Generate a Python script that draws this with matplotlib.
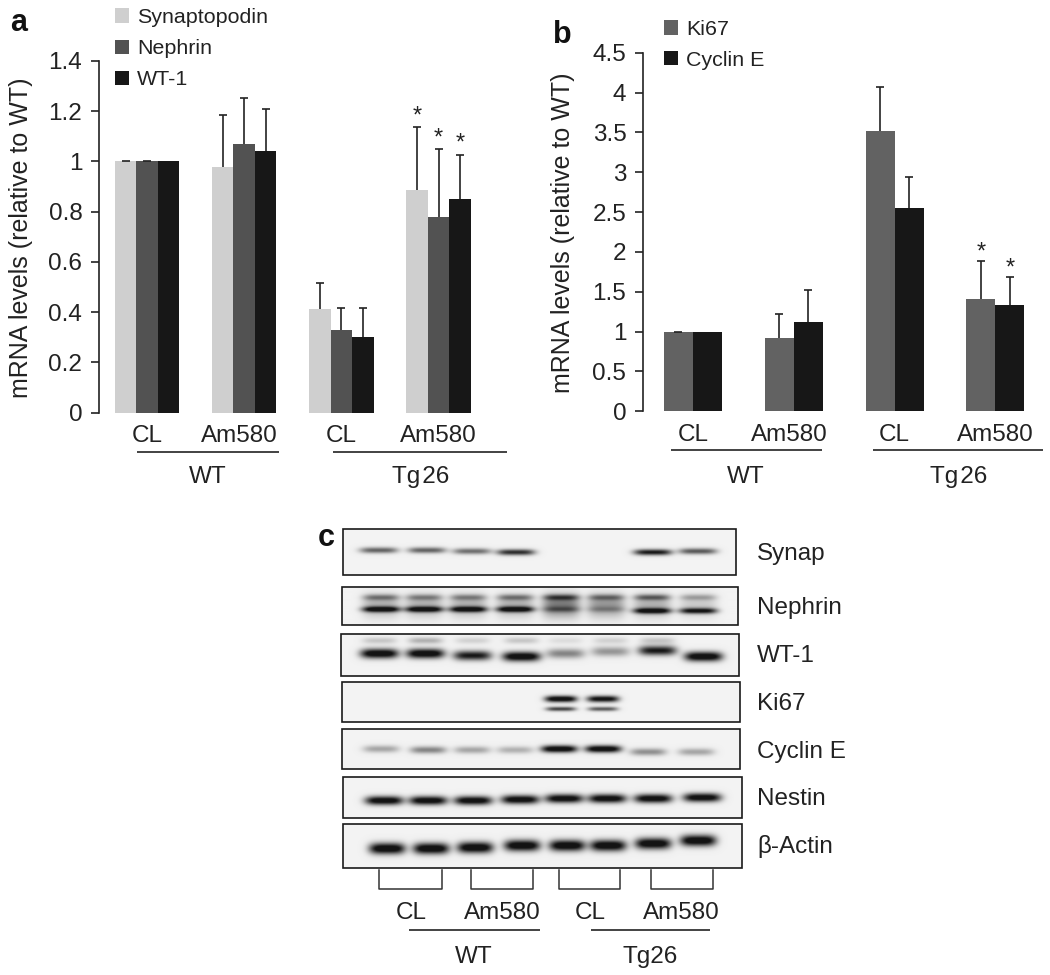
#!/usr/bin/env python3
import numpy as np
import matplotlib
matplotlib.use("Agg")
import matplotlib.pyplot as plt
from matplotlib.patches import Rectangle

plt.rcParams["font.family"] = ["Liberation Sans", "DejaVu Sans"]

W, H = 1050, 975
LIGHT, DARK, BLACK, MID = "#cfcfcf", "#525252", "#171717", "#626262"
INK = "#222222"

# --- panel a data ---
GROUPS_A = ["CL", "Am580", "CL", "Am580"]
SYNAP = [1.0, 0.98, 0.413, 0.885]
NEPH = [1.0, 1.068, 0.33, 0.78]
WT1 = [1.0, 1.04, 0.30, 0.85]
SYNAP_ERR = [0.0, 0.205, 0.103, 0.252]
NEPH_ERR = [0.0, 0.186, 0.085, 0.268]
WT1_ERR = [np.nan, 0.169, 0.115, 0.176]
YTICKS_A = [0, 0.2, 0.4, 0.6, 0.8, 1, 1.2, 1.4]

# --- panel b data ---
KI67 = [1.0, 0.92, 3.52, 1.415]
CYCE = [0.99, 1.12, 2.55, 1.34]
KI67_ERR = [0.0, 0.305, 0.55, 0.475]
CYCE_ERR = [np.nan, 0.40, 0.395, 0.345]
YTICKS_B = [0, 0.5, 1, 1.5, 2, 2.5, 3, 3.5, 4, 4.5]

# --- panel c data: band darkness per lane, 8 lanes ---
BLOT_NAMES = ["Synap", "Nephrin", "WT-1", "Ki67", "Cyclin E", "Nestin", "β-Actin"]
SYNAP_BAND = [0.65, 0.65, 0.6, 0.9, 0, 0, 1.0, 0.7]
NEPH_LOW = [1.0, 1.0, 1.0, 1.0, 0.3, 0.2, 1.0, 0.95]
NEPH_UP = [0.45, 0.4, 0.4, 0.45, 0.6, 0.45, 0.55, 0.3]
NEPH_SMEAR = [0.3, 0.3, 0.3, 0.3, 0.55, 0.42, 0.3, 0.18]
WT1_LOW = [1.2, 1.2, 1.0, 1.2, 0.5, 0.42, 1.0, 1.2]
WT1_UP = [0.2, 0.3, 0.15, 0.2, 0.1, 0.15, 0.2, 0]
KI67_UP = [0, 0, 0, 0, 1.2, 1.1, 0, 0]
KI67_LOW = [0, 0, 0, 0, 0.8, 0.7, 0, 0]
CYCE_BAND = [0.35, 0.5, 0.35, 0.3, 1.2, 1.2, 0.45, 0.35]
NESTIN_BAND = [1.15] * 8
ACTIN_BAND = [1.2] * 8


def px_axes(x0, y0, x1, y1, **kw):
    return fig.add_axes([x0/W, 1 - y1/H, (x1 - x0)/W, (y1 - y0)/H], **kw)


def bar_panel(ax, series, colors, errs, width, ticks, ymax, labels, tick_x):
    x = np.arange(4)
    n = len(series)
    conts, tops = [], []
    for i, (vals, col, err) in enumerate(zip(series, colors, errs)):
        xs = x + (i - (n - 1)/2)*width
        conts.append(ax.bar(xs, vals, width, color=col, linewidth=0, zorder=2))
        _, caps, _ = ax.errorbar(xs, vals, yerr=[np.zeros(4), err], fmt="none", ecolor=INK,
                                 elinewidth=1.2, capsize=2.6, capthick=1.2, zorder=3)
        caps[0].set_visible(False)
        tops.append(xs)
    ax.set_ylim(0, ymax)
    ax.set_yticks(ticks)
    ax.set_yticklabels([f"{t:g}" for t in ticks])
    ax.set_xticks(tick_x)
    ax.set_xticklabels(labels)
    ax.tick_params(axis="x", length=0, pad=9, labelsize=17.5, labelcolor=INK)
    ax.tick_params(axis="y", length=6, width=1.2, pad=6, labelsize=17.5, labelcolor=INK, color=INK)
    for s in ("top", "right", "bottom"):
        ax.spines[s].set_visible(False)
    ax.spines["left"].set_linewidth(1.2)
    ax.spines["left"].set_color(INK)
    ax.patch.set_alpha(0)
    return conts, tops


def stars(ax, xs, vals, errs, dy=0):
    for x, v, e in zip(xs, vals, errs):
        ax.annotate("*", (x, v + e), xytext=(0, dy), textcoords="offset points",
                    ha="center", va="bottom", fontsize=17, color=INK, annotation_clip=False)


def blot(ov, box, lanes, rows):
    # rows: (y per lane, half thickness, darkness per lane, half width)
    x0, y0, x1, y1 = box
    xx, yy = np.meshgrid(np.arange(x0, x1, 0.5), np.arange(y0, y1, 0.5))
    img = np.zeros_like(xx, dtype=float)
    for ys, thick, dark, hw in rows:
        for lx, ly, d in zip(lanes, ys, dark):
            img += d*np.exp(-((yy - ly)/thick)**2)*np.exp(-((xx - lx)/hw)**4)
    img = np.clip(0.95 - 0.87*np.clip(img, 0, 1), 0, 1)
    ov.imshow(img, extent=(x0, x1, y1, y0), cmap="gray", vmin=0, vmax=1, aspect="auto",
              interpolation="bilinear", zorder=1)
    ov.add_patch(Rectangle((x0, y0), x1 - x0, y1 - y0, fill=False, ec="#1a1a1a", lw=1.2, zorder=2))


fig = plt.figure(figsize=(W/100, H/100), dpi=100)

# overlay in pixel coords for underlines, group names and the blots
ov = fig.add_axes([0, 0, 1, 1])
ov.set_xlim(0, W)
ov.set_ylim(H, 0)
ov.axis("off")

# --- a ---
axa = px_axes(99, 61, 510, 412.7)
axa.set_xlim((99 - 147)/97.2, (510 - 147)/97.2)
conts_a, xs_a = bar_panel(axa, [SYNAP, NEPH, WT1], [LIGHT, DARK, BLACK],
                          [SYNAP_ERR, NEPH_ERR, WT1_ERR], 0.221, YTICKS_A, 1.4,
                          GROUPS_A, [0, 0.95, 2, 3])
axa.set_ylabel("mRNA levels (relative to WT)", fontsize=18, color=INK)
axa.yaxis.set_label_coords((33 - 99)/411, (412.7 - 237.5)/351.7)
for i in range(3):
    stars(axa, [xs_a[i][3]], [[SYNAP, NEPH, WT1][i][3]], [[SYNAP_ERR, NEPH_ERR, WT1_ERR][i][3]])
axa.legend(conts_a, ["Synaptopodin", "Nephrin", "WT-1"], loc="upper left",
           bbox_to_anchor=(115/W, 1 - 8/H), bbox_transform=fig.transFigure, frameon=False,
           fontsize=15.4, handlelength=0.65, handleheight=0.65, handletextpad=0.38,
           labelspacing=0.57, borderpad=0, borderaxespad=0, labelcolor=INK)

# --- b ---
axb = px_axes(643, 52.7, 1045, 411.3)
axb.set_xlim((643 - 693)/100.8, (1045 - 693)/100.8)
conts_b, xs_b = bar_panel(axb, [KI67, CYCE], [MID, BLACK], [KI67_ERR, CYCE_ERR], 0.288,
                          YTICKS_B, 4.5, GROUPS_A, [0, 0.96, 2, 3])
axb.set_ylabel("mRNA levels (relative to WT)", fontsize=18, color=INK)
axb.yaxis.set_label_coords((575 - 643)/402, (411.3 - 232.5)/358.6)
for i in range(2):
    stars(axb, [xs_b[i][3]], [[KI67, CYCE][i][3]], [[KI67_ERR, CYCE_ERR][i][3]], dy=-2)
axb.legend(conts_b, ["Ki67", "Cyclin E"], loc="upper left",
           bbox_to_anchor=(664/W, 1 - 20/H), bbox_transform=fig.transFigure, frameon=False,
           fontsize=15.4, handlelength=0.65, handleheight=0.65, handletextpad=0.38,
           labelspacing=0.54, borderpad=0, borderaxespad=0, labelcolor=INK)

# panel letters
for s, x, y in [("a", 10, 31), ("b", 553, 43), ("c", 318, 546)]:
    ov.text(x, y, s, fontsize=22, fontweight="bold", color="#111111", ha="left", va="baseline")

# group underlines and names for a, b
for x0, x1, y in [(137, 279, 451.5), (333, 507, 451.5), (671, 822, 450), (873, 1043, 450),
                  (409, 540, 929.5), (591, 710, 929.5)]:
    ov.plot([x0, x1], [y, y], color=INK, lw=1.2, solid_capstyle="butt")
for s, x, y in [("WT", 208, 477), ("Tg\u200a26", 421, 477), ("WT", 746, 477), ("Tg\u200a26", 959, 477),
                ("WT", 474, 957), ("Tg26", 650, 957)]:
    ov.text(x, y, s, fontsize=17.5, color=INK, ha="center", va="center")

# --- c ---
BOXES = [(343.3, 529, 736, 575), (342, 586.7, 738, 625), (340.7, 633.7, 739.3, 676.3),
         (342.3, 682.3, 740.3, 722), (342, 729.3, 740, 769.3), (343, 776.7, 742, 817.7),
         (343, 823.7, 742, 867.7)]
LANE_Y = [554, 608, 656, 704, 752, 799, 847]
blot(ov, BOXES[0], [379, 427, 472, 516, 562, 605, 653, 698],
     [([550, 550, 551, 552, 552, 552, 552, 551], 3, SYNAP_BAND, 19)])
lanes = [381, 424, 468, 515, 561, 606, 652, 698]
blot(ov, BOXES[1], lanes,
     [([606]*8, 11, NEPH_SMEAR, 19), ([597.7]*8, 3, NEPH_UP, 18),
      ([609.5, 609.5, 609.5, 609.5, 609.5, 609.5, 611, 611], 2.8, NEPH_LOW, 19)])
blot(ov, BOXES[2], [379, 425, 472, 521, 565, 610, 657, 703],
     [([654, 654, 656, 657, 654, 652, 651, 657], 4.8, WT1_LOW, 19),
      ([641]*8, 3.2, WT1_UP, 17)])
blot(ov, BOXES[3], [379, 425, 472, 516, 561, 603, 653, 698],
     [([699]*8, 3.2, KI67_UP, 16), ([709]*8, 2.2, KI67_LOW, 15)])
blot(ov, BOXES[4], [381, 428, 472, 515, 559, 603, 648, 696],
     [([749, 750, 750, 750, 749, 749, 752, 752], 3.6, CYCE_BAND, 18)])
blot(ov, BOXES[5], [384, 428, 473, 520, 564, 607, 653, 702],
     [([800, 800, 800, 799, 798, 798, 798, 797], 4.4, NESTIN_BAND, 19)])
blot(ov, BOXES[6], [387, 431, 475, 522, 567, 608, 653, 698],
     [([848, 848, 847, 845, 845, 845, 843, 840], 5.6, ACTIN_BAND, 18)])
ov.set_xlim(0, W)
ov.set_ylim(H, 0)
for s, y in zip(BLOT_NAMES, LANE_Y):
    ov.text(757, y, s, fontsize=17.5, color=INK, ha="left", va="center")

# lane brackets
for x0, x1 in [(379.3, 442.3), (471, 532.7), (558.7, 620.3), (650.7, 713.3)]:
    ov.plot([x0, x0, x1, x1], [870, 888.7, 888.7, 870], color="#333333", lw=1.1)
for s, x in zip(GROUPS_A, [411, 502, 590, 681.7]):
    ov.text(x, 913, s, fontsize=17.5, color=INK, ha="center", va="center")

fig.savefig("out.png", dpi=100)
